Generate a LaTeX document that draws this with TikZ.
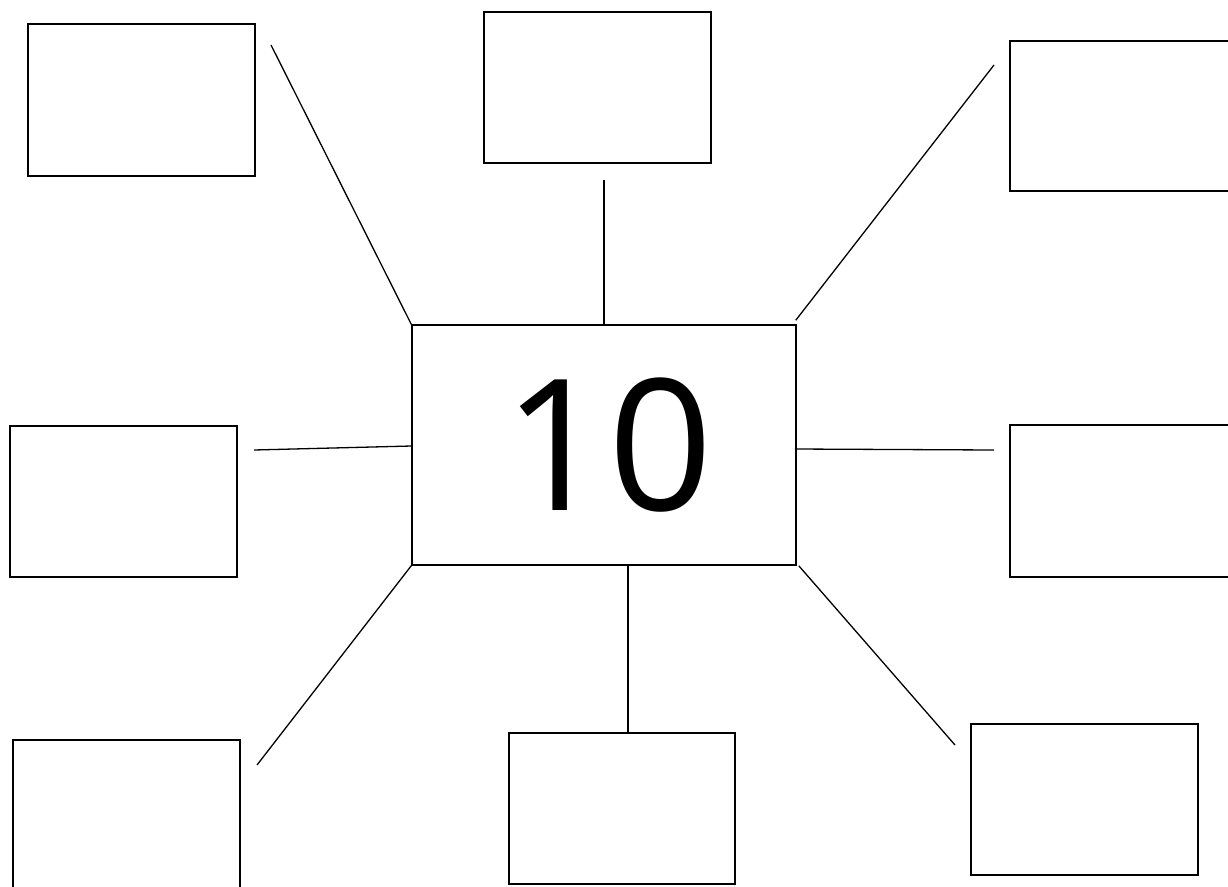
\documentclass[tikz,border=0pt]{standalone}
\usepackage{fontspec}
\setmainfont{Open Sans}
\begin{document}
\begin{tikzpicture}[x=1pt,y=-1pt,
  box/.style={draw,line width=1.5pt,rectangle,inner sep=0pt},
  link/.style={line width=1.3pt}]
\useasboundingbox (0,0) rectangle (1228,886);
\clip (0,0) rectangle (1228,886);
% central box
\node[box,minimum width=384pt,minimum height=240pt,font=\fontsize{183}{183}\selectfont] (c) at (604,445) {\hspace*{8pt}10};
% outer boxes
\node[box,minimum width=227pt,minimum height=152pt] (tl) at (141.5,100) {};
\node[box,minimum width=227pt,minimum height=151pt] (t) at (597.5,87.5) {};
\node[box,minimum width=227pt,minimum height=150pt] (tr) at (1123.5,116) {};
\node[box,minimum width=227pt,minimum height=151pt] (l) at (123.5,501.5) {};
\node[box,minimum width=227pt,minimum height=152pt] (r) at (1123.5,501) {};
\node[box,minimum width=227pt,minimum height=152pt] (bl) at (126.5,816) {};
\node[box,minimum width=226pt,minimum height=151pt] (b) at (622,808.5) {};
\node[box,minimum width=227pt,minimum height=151pt] (br) at (1084.5,799.5) {};
% free ends of connectors
\coordinate (tle) at (271,45);
\coordinate (te) at (604,180);
\coordinate (tre) at (994,65);
\coordinate (le) at (254,450);
\coordinate (re) at (994,450);
\coordinate (ble) at (257,765);
\coordinate (be) at (628,733);
\coordinate (bre) at (955,745);
% connectors
\draw[link] (c.north west) -- (tle);
\draw[link] (c.north west -| te) -- (te);
\draw[link] ([xshift=-1pt,yshift=4pt]c.north east) -- (tre);
\draw[link] ([yshift=-1pt]c.west) -- (le);
\draw[link] ([xshift=-2pt,yshift=-4pt]c.east) -- (re);
\draw[link] (c.south west) -- (ble);
\draw[link] (c.south west -| be) -- (be);
\draw[link] ([xshift=2pt]c.south east) -- (bre);
\end{tikzpicture}
\end{document}
